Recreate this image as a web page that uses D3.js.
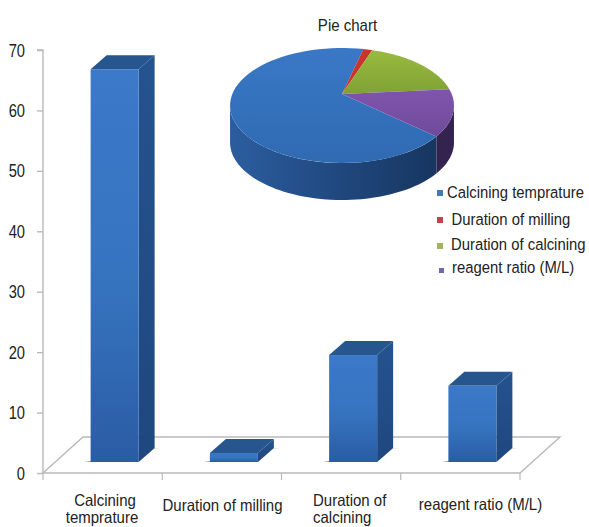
<!DOCTYPE html>
<html>
<head>
<meta charset="utf-8">
<script src="https://cdn.jsdelivr.net/npm/d3@7/dist/d3.min.js"></script>
<style>
html,body{margin:0;padding:0;background:#fff;overflow:hidden}
svg{display:block}
text{font-family:"Liberation Sans",Arial,sans-serif;fill:#222}
</style>
</head>
<body>
<svg id="chart" width="589" height="527"></svg>
<script>
// Study factors and their contribution
const categories = ["Calcining temprature", "Duration of milling", "Duration of calcining", "reagent ratio (M/L)"];
const values = [65, 1.5, 17.7, 12.6];
const categoryLines = [["Calcining", "temprature"], ["Duration of milling"], ["Duration of", "calcining"], ["reagent ratio (M/L)"]];
const legendLabels = ["Calcining temprature", "Duration of milling", "Duration of calcining", "reagent ratio (M/L)"];
const yTicks = [0, 10, 20, 30, 40, 50, 60, 70];
const pieColors = ["#3b76c2", "#c9352c", "#8cad3a", "#7c52a8"];
const pieTitle = "Pie chart";

const svg = d3.select("#chart");
const defs = svg.append("defs");

function linearGradient(id, x2, y2, stops) {
  const g = defs.append("linearGradient").attr("id", id)
    .attr("x1", 0).attr("y1", 0).attr("x2", x2).attr("y2", y2);
  stops.forEach(([o, c]) => g.append("stop").attr("offset", o).attr("stop-color", c));
}
linearGradient("barFront", 0, 1, [[0, "#3b79c9"], [0.55, "#3673bf"], [1, "#2a5ca4"]]);
linearGradient("barSide", 0, 1, [[0, "#25538f"], [1, "#1f477f"]]);
linearGradient("floorShadow", 1, 0, [[0, "#8d8378"], [1, "#e9e7e4"]]);
linearGradient("pieBlue", 0, 1, [[0, "#3a78c6"], [1, "#2f6ab2"]]);
linearGradient("pieGreen", 0, 1, [[0, "#9aba3e"], [1, "#7fa236"]]);
linearGradient("piePurple", 0, 1, [[0, "#7f55ad"], [1, "#6f4a9a"]]);
defs.append("linearGradient").attr("id", "pieWallBlue").attr("gradientUnits", "userSpaceOnUse")
  .attr("x1", 229).attr("x2", 440).attr("y1", 0).attr("y2", 0)
  .call(g => [[0, "#2b5e9f"], [0.35, "#244f8a"], [0.75, "#1b3f6f"], [1, "#17365f"]]
    .forEach(([o, c]) => g.append("stop").attr("offset", o).attr("stop-color", c)));

// Narrow glyphs: place text at (px, py) with a horizontal squeeze
const squeeze = (sel, px, py, sx) => sel.attr("transform", `translate(${px},${py}) scale(${sx},1)`);

// ---- Bar chart frame ----
const margin = { left: 43, right: 520, top: 50, bottom: 473 };
const depth = { dx: 16, dy: -14 };          // bar extrusion
const floorBack = { dx: 40, dy: -36 };      // floor parallelogram
const barInset = { dx: 12, dy: -11 };       // bar foot relative to the floor's front edge
const barWidth = 48;

const x = d3.scaleBand().domain(categories).range([margin.left, margin.right]);
const y = d3.scaleLinear().domain([0, 70]).range([margin.bottom, margin.top]);

const gridColor = "#b9b9b9";
const floor = [
  [margin.left, margin.bottom],
  [margin.left + floorBack.dx, margin.bottom + floorBack.dy],
  [margin.right + floorBack.dx, margin.bottom + floorBack.dy],
  [margin.right, margin.bottom]
];
svg.append("path").attr("d", d3.line()(floor) + "Z")
  .attr("fill", "#fff").attr("stroke", gridColor).attr("stroke-width", 1.4);

const yAxis = d3.axisLeft(y).tickValues(yTicks).tickSize(6);
const yG = svg.append("g").attr("transform", `translate(${margin.left},0)`).call(yAxis);
yG.selectAll("path,line").attr("stroke", gridColor).attr("stroke-width", 1.4);
yG.select("path").attr("d", `M-6,${y(70)}H0V${y(0)}`);
yG.selectAll("text")
  .attr("font-size", 17.5).attr("x", 0).attr("y", 0).attr("dy", null)
  .attr("text-anchor", "end").style("fill", "#222")
  .call(squeeze, -18, 6, 0.84);

// category separators under the floor
svg.append("g").selectAll("line")
  .data([...categories.map(c => x(c)), margin.right]).join("line")
  .attr("x1", d => d).attr("x2", d => d)
  .attr("y1", margin.bottom).attr("y2", margin.bottom + 7)
  .attr("stroke", gridColor).attr("stroke-width", 1.2);

// ---- Bars ----
const bars = svg.append("g").selectAll("g").data(categories.map((c, i) => ({ c, v: values[i] }))).join("g");
const left = d => x(d.c) + (x.bandwidth() - barWidth) / 2 + barInset.dx;
const foot = margin.bottom + barInset.dy;
const top_ = d => y(d.v) + barInset.dy;
const poly = pts => d3.line()(pts) + "Z";

bars.append("path").attr("fill", "url(#floorShadow)").attr("opacity", 0.85)
  .attr("d", d => poly([
    [left(d) - 6, foot], [left(d) + barWidth, foot],
    [left(d) + barWidth + depth.dx, foot + depth.dy],
    [left(d) + barWidth + depth.dx + 6, foot + depth.dy]
  ]));
bars.append("path").attr("fill", "url(#barSide)")
  .attr("d", d => poly([
    [left(d) + barWidth, top_(d)], [left(d) + barWidth + depth.dx, top_(d) + depth.dy],
    [left(d) + barWidth + depth.dx, foot + depth.dy], [left(d) + barWidth, foot]
  ]));
bars.append("path").attr("fill", "#27568f")
  .attr("d", d => poly([
    [left(d), top_(d)], [left(d) + depth.dx, top_(d) + depth.dy],
    [left(d) + barWidth + depth.dx, top_(d) + depth.dy], [left(d) + barWidth, top_(d)]
  ]));
bars.append("rect").attr("fill", "url(#barFront)")
  .attr("x", left).attr("y", top_).attr("width", barWidth).attr("height", d => foot - top_(d));

// ---- Category labels ----
const labelAnchors = [{ x: 105, y: 505.5, a: "middle" }, { x: 222.5, y: 511, a: "middle" },
                      { x: 313, y: 505.5, a: "start" }, { x: 480.5, y: 510, a: "middle" }];
categoryLines.forEach((lines, i) => {
  lines.forEach((l, j) => {
    const t = svg.append("text").attr("font-size", 16.3)
      .attr("text-anchor", labelAnchors[i].a).text(l);
    squeeze(t, labelAnchors[i].x - (i === 0 && j === 1 ? 3 : 0), labelAnchors[i].y + j * 17, 0.92);
  });
});

// ---- Pie in perspective ----
const apex = { x: 342, y: 94 };
const persp = { a: 55.2, b: 109.7, k: 0.2 };
const wallHeight = 37;
const project = th => {
  const w = 1 + persp.k * Math.cos(th);
  return [apex.x + persp.b * Math.sin(th) / w, apex.y - persp.a * Math.cos(th) / w];
};
const rim = (a0, a1) => d3.range(0, 61).map(i => project(a0 + (a1 - a0) * i / 60));

const slices = d3.pie().sort(null)
  .startAngle(131.8 * Math.PI / 180)
  .endAngle((131.8 + 360) * Math.PI / 180)(values);

// visible wall: the part of the rim between the two horizontal extremes
const wallFrom = Math.acos(-persp.k);
const wallTo = 2 * Math.PI - wallFrom;
const wall = svg.append("g");
function wallPath(a0, a1) {
  const r = rim(a0, a1);
  const lower = r.map(([px, py]) => [px, py + wallHeight]).reverse();
  return d3.line()([...r, ...lower]) + "Z";
}
const purple = slices[3];
wall.append("path").attr("fill", "#34234f")
  .attr("d", wallPath(wallFrom, purple.endAngle - 2 * Math.PI));
wall.append("path").attr("fill", "url(#pieWallBlue)")
  .attr("d", wallPath(purple.endAngle - 2 * Math.PI, wallTo));

const sliceFills = ["url(#pieBlue)", pieColors[1], "url(#pieGreen)", "url(#piePurple)"];
svg.append("g").selectAll("path").data(slices).join("path")
  .attr("fill", (d, i) => sliceFills[i])
  .attr("d", d => d3.line()([[apex.x, apex.y], ...rim(d.startAngle, d.endAngle)]) + "Z");

const titleText = svg.append("text").attr("text-anchor", "middle").attr("font-size", 16).text(pieTitle);
squeeze(titleText, 347.5, 31, 0.94);

// ---- Legend ----
const legendRows = [
  { bx: 437, by: 190, s: 6, tx: 447, ty: 198 },
  { bx: 437, by: 217, s: 6, tx: 451.5, ty: 225 },
  { bx: 437, by: 243, s: 6, tx: 451, ty: 250 },
  { bx: 439, by: 268, s: 5, tx: 452, ty: 273 }
];
const legendSwatches = ["#3d7cba", "#c4424a", "#9fb65c", "#7566a8"];
const legend = svg.append("g").selectAll("g").data(legendLabels).join("g");
legend.append("rect")
  .attr("x", (d, i) => legendRows[i].bx).attr("y", (d, i) => legendRows[i].by)
  .attr("width", (d, i) => legendRows[i].s).attr("height", (d, i) => legendRows[i].s)
  .attr("fill", (d, i) => legendSwatches[i]);
legend.append("text").attr("font-size", 16.5).text(d => d)
  .each(function (d, i) { squeeze(d3.select(this), legendRows[i].tx, legendRows[i].ty, 0.9); });
</script>
</body>
</html>
